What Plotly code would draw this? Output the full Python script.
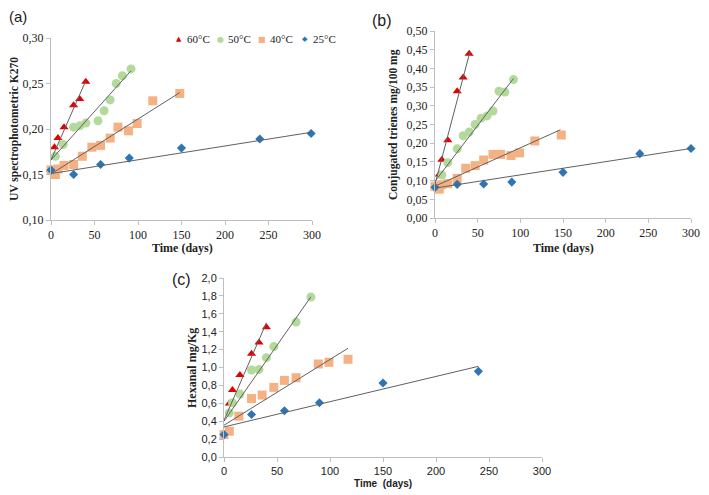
import plotly.graph_objects as go

# ---------------- data ----------------
series_names = ["60°C", "50°C", "40°C", "25°C"]
series_colors = ["#E30000", "#B3D99B", "#F5B183", "#2E75B6"]
series_symbols = ["triangle-up", "circle", "square", "diamond"]
legend_glyphs = ["▲", "●", "■", "◆"]

# Panel (a) UV K270
a_days_60 = [0, 4, 8, 15, 26, 33, 40]
a_val_60 = [0.155, 0.180, 0.190, 0.202, 0.226, 0.233, 0.252]
a_days_50 = [0, 5, 14, 26, 33, 40, 54, 61, 68, 75, 82, 92]
a_val_50 = [0.155, 0.170, 0.183, 0.202, 0.2035, 0.2065, 0.209, 0.220, 0.232, 0.250, 0.2585, 0.266]
a_days_40 = [0, 5, 8, 15, 26, 36, 47, 57, 68, 77, 89, 99, 117, 148]
a_val_40 = [0.155, 0.150, 0.156, 0.160, 0.161, 0.170, 0.180, 0.182, 0.190, 0.202, 0.198, 0.206, 0.231, 0.239]
a_days_25 = [0, 26, 57, 90, 150, 240, 299]
a_val_25 = [0.155, 0.150, 0.161, 0.168, 0.179, 0.189, 0.195]
# trend lines: value at day 0, last day, value at last day
a_trend_start = [0.166, 0.166, 0.1505, 0.151]
a_trend_end_day = [40, 92, 148, 300]
a_trend_end_val = [0.253, 0.264, 0.240, 0.1965]

# Panel (b) conjugated trienes
b_days_60 = [0, 5, 8, 15, 26, 33, 40]
b_val_60 = [0.082, 0.116, 0.156, 0.208, 0.339, 0.376, 0.439]
b_days_50 = [0, 8, 15, 26, 33, 40, 47, 54, 61, 68, 75, 82, 92]
b_val_50 = [0.082, 0.115, 0.148, 0.185, 0.220, 0.230, 0.250, 0.267, 0.273, 0.286, 0.339, 0.337, 0.370]
b_days_40 = [0, 5, 8, 15, 26, 36, 47, 57, 68, 77, 89, 99, 117, 148]
b_val_40 = [0.085, 0.077, 0.089, 0.092, 0.106, 0.133, 0.140, 0.155, 0.170, 0.170, 0.167, 0.174, 0.206, 0.222]
b_days_25 = [0, 26, 57, 90, 150, 240, 300]
b_val_25 = [0.082, 0.090, 0.091, 0.096, 0.122, 0.172, 0.186]
b_trend_start = [0.090, 0.098, 0.085, 0.080]
b_trend_end_day = [41, 92, 147, 300]
b_trend_end_val = [0.445, 0.373, 0.236, 0.186]

# Panel (c) hexanal
c_days_60 = [5, 8, 15, 26, 33, 40]
c_val_60 = [0.598, 0.748, 0.916, 1.155, 1.279, 1.45]
c_days_50 = [5, 8, 15, 26, 33, 40, 47, 68, 82]
c_val_50 = [0.493, 0.606, 0.703, 0.972, 0.979, 1.11, 1.234, 1.507, 1.787]
c_days_40 = [0, 5, 14, 26, 36, 47, 57, 68, 89, 99, 117]
c_val_40 = [0.25, 0.288, 0.456, 0.654, 0.692, 0.778, 0.856, 0.886, 1.039, 1.058, 1.092]
c_days_25 = [0, 26, 57, 90, 150, 240]
c_val_25 = [0.25, 0.475, 0.516, 0.606, 0.826, 0.957]
c_trend_start = [0.41, 0.40, 0.355, 0.336]
c_trend_end_day = [40, 82, 117, 240]
c_trend_end_val = [1.50, 1.79, 1.215, 1.013]

x_ticks = [0, 50, 100, 150, 200, 250, 300]

panels = [
    ("x", "y", [a_days_60, a_days_50, a_days_40, a_days_25], [a_val_60, a_val_50, a_val_40, a_val_25],
     a_trend_start, a_trend_end_day, a_trend_end_val),
    ("x2", "y2", [b_days_60, b_days_50, b_days_40, b_days_25], [b_val_60, b_val_50, b_val_40, b_val_25],
     b_trend_start, b_trend_end_day, b_trend_end_val),
    ("x3", "y3", [c_days_60, c_days_50, c_days_40, c_days_25], [c_val_60, c_val_50, c_val_40, c_val_25],
     c_trend_start, c_trend_end_day, c_trend_end_val),
]

marker_sizes = [8, 9, 9, 7]

fig = go.Figure()
for xa, ya, days, vals, ts, te_d, te_v in panels:
    for i in range(4):
        fig.add_trace(go.Scatter(
            x=days[i], y=vals[i], mode="markers", xaxis=xa, yaxis=ya,
            name=series_names[i], showlegend=False, cliponaxis=False,
            marker=dict(symbol=series_symbols[i], size=marker_sizes[i], color=series_colors[i],
                        line=dict(width=0))))
    for i in range(4):
        fig.add_trace(go.Scatter(
            x=[0, te_d[i]], y=[ts[i], te_v[i]], mode="lines", xaxis=xa, yaxis=ya,
            showlegend=False, cliponaxis=False, hoverinfo="skip",
            line=dict(color="#606060", width=1)))

# page body has an 8px margin: the figure is placed 8px in from the window's corner
OFF = 8
W, H = 701, 487
def px(x):
    return (x - OFF) / W
def py(y):
    return 1 - (y - OFF) / H

serif = "Liberation Serif, DejaVu Serif, serif"
sans = "Liberation Sans, Arial, sans-serif"
axcol = "#BFBFBF"

def xaxis_cfg(domain, anchor, font):
    return dict(domain=domain, anchor=anchor, range=[0, 300], tickvals=x_ticks, automargin=False,
                showline=True, linecolor=axcol, linewidth=1, showgrid=False, zeroline=False,
                ticks="outside", ticklen=4, tickcolor=axcol, tickfont=font, fixedrange=True)

def yaxis_cfg(domain, anchor, rng, dtick, fmt, font):
    return dict(domain=domain, anchor=anchor, range=rng, dtick=dtick, tick0=0, tickformat=fmt,
                automargin=False,
                showline=True, linecolor=axcol, linewidth=1, showgrid=False, zeroline=False,
                ticks="outside", ticklen=4, tickcolor=axcol, tickfont=font, fixedrange=True)

serif_tick = dict(family=serif, size=12, color="#222222")
sans_tick = dict(family=sans, size=11, color="#222222")

fig.update_layout(
    width=W, height=H, margin=dict(l=0, r=0, t=0, b=0, autoexpand=False),
    paper_bgcolor="white", plot_bgcolor="white",
    separators=",.",
    showlegend=False,
    xaxis=xaxis_cfg([px(51), px(312)], "y", serif_tick),
    yaxis=yaxis_cfg([py(220), py(38)], "x", [0.10, 0.30], 0.05, ".2f", serif_tick),
    xaxis2=xaxis_cfg([px(435), px(691)], "y2", serif_tick),
    yaxis2=yaxis_cfg([py(218), py(31)], "x2", [0, 0.50], 0.05, ".2f", serif_tick),
    xaxis3=xaxis_cfg([px(224), px(542)], "y3", sans_tick),
    yaxis3=yaxis_cfg([py(457), py(278)], "x3", [0, 2.0], 0.2, ".1f", sans_tick),
)

ann = []
def add_text(text, x, y, font, angle=0, xanchor="center", yanchor="middle"):
    ann.append(dict(text=text, x=px(x), y=py(y), xref="paper", yref="paper", showarrow=False,
                    font=font, textangle=angle, xanchor=xanchor, yanchor=yanchor))

bold_serif = dict(family=serif, size=12, color="#222222")
label_font = dict(family=sans, size=16, color="#222222")

# panel labels
add_text("(a)", 18, 17, dict(family=sans, size=15, color="#222222"))
add_text("(b)", 382, 20, label_font)
add_text("(c)", 181, 279, label_font)

# axis titles
add_text("<b>Time (days)</b>", 182, 248, bold_serif)
add_text("<b>UV spectrophotometric K270</b>", 15, 129, dict(family=serif, size=11.5, color="#222222"), angle=-90)
add_text("<b>Time (days)</b>", 563, 248, bold_serif)
add_text("<b>Conjugated trienes mg/100 mg</b>", 394, 125, dict(family=serif, size=11.5, color="#222222"), angle=-90)
add_text("<b>Time  (days)</b>", 383, 483, dict(family=sans, size=10, color="#222222"))
add_text("<b>Hexanal mg/Kg</b>", 192, 368, bold_serif, angle=-90)

# legend (panel a)
leg_x = [179, 220, 262, 305]
glyph_sizes = [7, 8, 8, 7]
for i in range(4):
    add_text(legend_glyphs[i], leg_x[i], 39, dict(family="DejaVu Sans", size=glyph_sizes[i], color=series_colors[i]),
             xanchor="center")
    add_text(series_names[i], leg_x[i] + 6, 39, dict(family=serif, size=11, color="#222222"),
             xanchor="left")

fig.update_layout(annotations=ann)
fig.write_html("out.html")
